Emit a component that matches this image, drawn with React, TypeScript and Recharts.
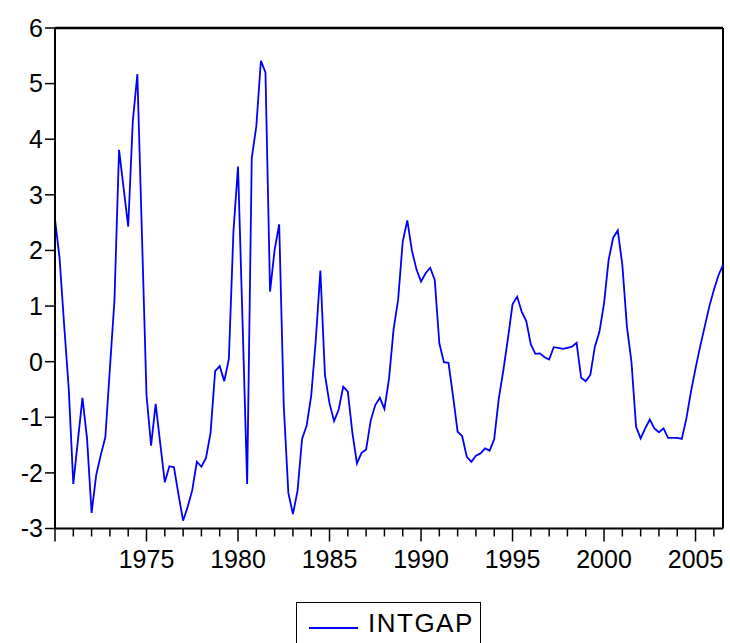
import React from "react";
import { LineChart, Line, XAxis, YAxis, ReferenceLine } from "recharts";

// quarterly, 1970Q1 .. 2006Q3
const startYear = 1970;
const intgap = [
  2.56, 1.86, 0.66, -0.48, -2.2, -1.42, -0.65, -1.38, -2.72, -2.04,
  -1.68, -1.36, -0.12, 1.11, 3.81, 3.12, 2.43, 4.32, 5.17, 2.29,
  -0.6, -1.51, -0.76, -1.47, -2.17, -1.88, -1.9, -2.39, -2.86, -2.61,
  -2.31, -1.8, -1.89, -1.73, -1.28, -0.17, -0.08, -0.35, 0.05, 2.34,
  3.51, 0.7, -2.2, 3.66, 4.23, 5.41, 5.2, 1.26, 2.01, 2.47,
  -0.8, -2.36, -2.74, -2.33, -1.39, -1.15, -0.61, 0.39, 1.64, -0.24,
  -0.75, -1.07, -0.86, -0.45, -0.54, -1.28, -1.83, -1.64, -1.58, -1.06,
  -0.78, -0.65, -0.85, -0.31, 0.58, 1.12, 2.16, 2.54, 2.0, 1.66,
  1.44, 1.59, 1.69, 1.47, 0.33, -0.01, -0.02, -0.62, -1.26, -1.34,
  -1.71, -1.8, -1.69, -1.65, -1.56, -1.6, -1.39, -0.66, -0.15, 0.42,
  1.03, 1.17, 0.9, 0.73, 0.31, 0.14, 0.15, 0.08, 0.04, 0.26,
  0.25, 0.23, 0.25, 0.27, 0.34, -0.29, -0.35, -0.24, 0.27, 0.54,
  1.05, 1.83, 2.23, 2.36, 1.74, 0.63, -0.01, -1.17, -1.38, -1.2,
  -1.04, -1.2, -1.27, -1.2, -1.37, -1.37, -1.37, -1.39, -1.02, -0.54,
  -0.12, 0.27, 0.63, 0.99, 1.29, 1.55, 1.74,
];

const yTicks = [-3, -2, -1, 0, 1, 2, 3, 4, 5, 6];
const yearTicks = [
  1970, 1971, 1972, 1973, 1974, 1975, 1976, 1977, 1978, 1979,
  1980, 1981, 1982, 1983, 1984, 1985, 1986, 1987, 1988, 1989,
  1990, 1991, 1992, 1993, 1994, 1995, 1996, 1997, 1998, 1999,
  2000, 2001, 2002, 2003, 2004, 2005, 2006,
];
const labeledYears = [1975, 1980, 1985, 1990, 1995, 2000, 2005];

const data = intgap.map((v, i) => ({ t: startYear + i / 4, INTGAP: v }));
const xMax = data[data.length - 1].t;

const FONT = "'Liberation Sans', Arial, sans-serif";

const YearTick = (props: any) => {
  const { x, y, payload } = props;
  const labeled = labeledYears.includes(payload.value);
  const major = labeled || payload.value === startYear;
  return (
    <g>
      <line x1={x} y1={y} x2={x} y2={y + (major ? 13 : 8)} stroke="#000" strokeWidth={1.5} />
      {labeled && (
        <text x={x} y={y + 39} textAnchor="middle" fontSize={25} fontFamily={FONT} fill="#000">
          {payload.value}
        </text>
      )}
    </g>
  );
};

export default function App() {
  return (
    <div
      style={{
        position: "absolute",
        left: 0,
        top: 0,
        width: 730,
        height: 643,
        overflow: "hidden",
        background: "#fff",
      }}
    >
      <LineChart
        width={730}
        height={643}
        data={data}
        margin={{ top: 28, right: 7, left: 10, bottom: 74.5 }}
      >
        <XAxis
          dataKey="t"
          type="number"
          domain={[startYear, xMax]}
          ticks={yearTicks}
          interval={0}
          height={40}
          tickSize={0}
          tickMargin={0}
          tickLine={false}
          axisLine={{ stroke: "#000", strokeWidth: 2 }}
          tick={<YearTick />}
        />
        <YAxis
          domain={[-3, 6]}
          ticks={yTicks}
          interval={0}
          width={45}
          tickSize={10}
          tickLine={{ stroke: "#000", strokeWidth: 1.5 }}
          axisLine={{ stroke: "#000", strokeWidth: 2 }}
          tick={{ fill: "#000", fontSize: 25, fontFamily: FONT }}
        />
        <ReferenceLine y={6} stroke="#000" strokeWidth={2.5} />
        <ReferenceLine x={xMax} stroke="#000" strokeWidth={2} />
        <Line
          type="linear"
          dataKey="INTGAP"
          stroke="#0000ff"
          strokeWidth={1.8}
          dot={false}
          isAnimationActive={false}
        />
      </LineChart>
      <div
        style={{
          position: "absolute",
          left: 296,
          top: 602,
          width: 183,
          height: 50,
          border: "1px solid #000",
          fontFamily: FONT,
        }}
      >
        <svg width={60} height={40} style={{ position: "absolute", left: 12, top: 4 }}>
          <line x1={0} y1={21} x2={49} y2={21} stroke="#0000ff" strokeWidth={1.8} />
        </svg>
        <span
          style={{
            position: "absolute",
            left: 71,
            top: 5,
            fontSize: 26,
            letterSpacing: 1.5,
            lineHeight: "30px",
            color: "#000",
          }}
        >
          INTGAP
        </span>
      </div>
    </div>
  );
}
